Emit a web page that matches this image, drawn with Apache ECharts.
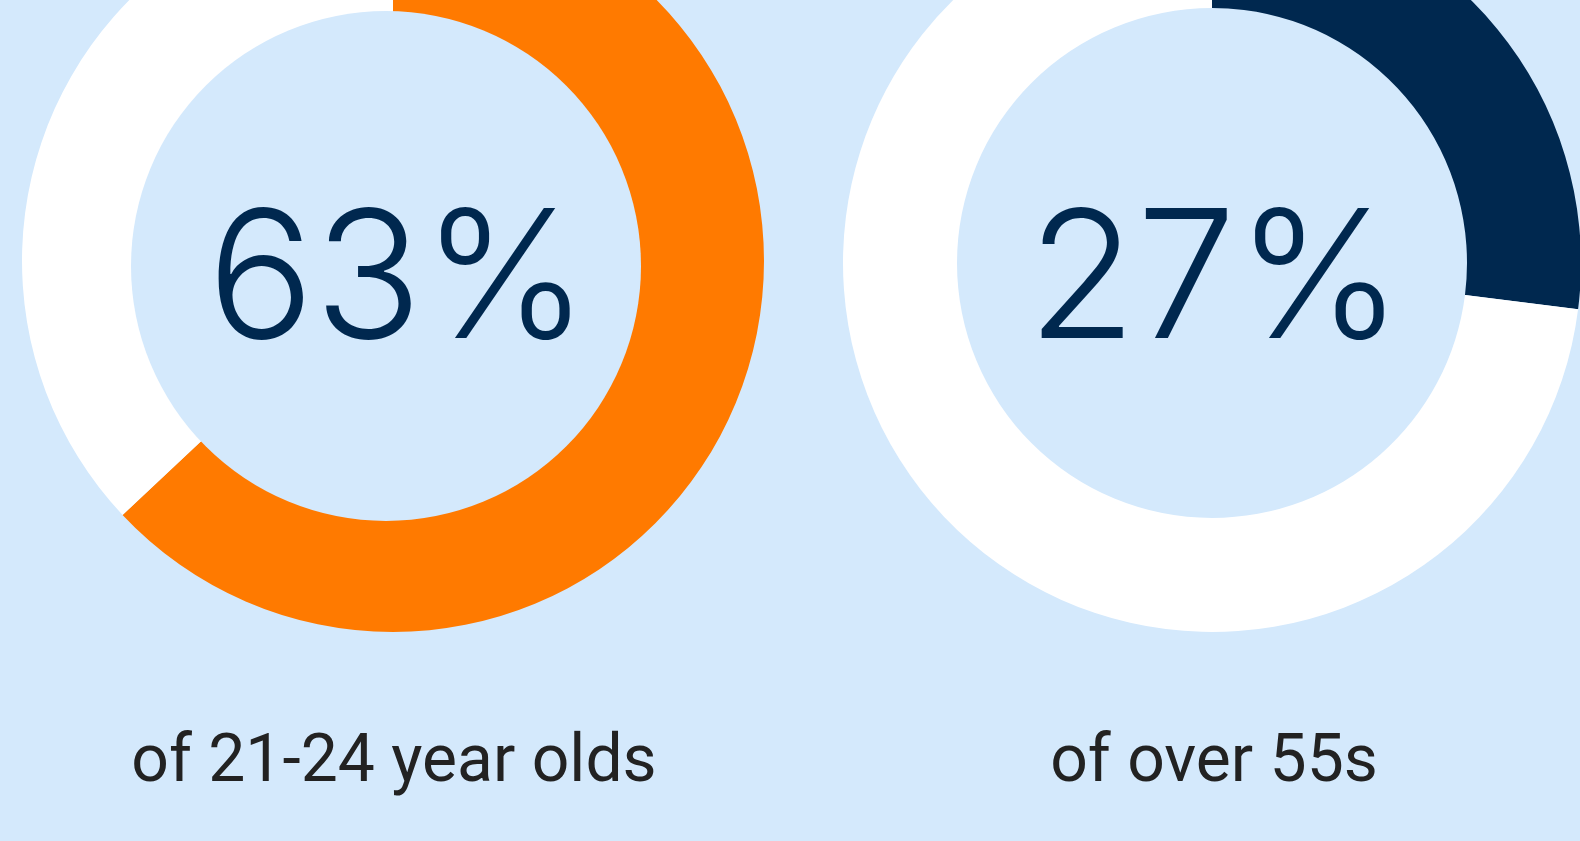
<!DOCTYPE html>
<html>
<head>
<meta charset="utf-8">
<script src="https://cdn.jsdelivr.net/npm/echarts@6/dist/echarts.min.js"></script>
<style>
  html, body { margin: 0; padding: 0; background: #D4E9FC; }
  #chart { width: 1580px; height: 841px; }
</style>
</head>
<body>
<div id="chart"></div>
<script>
// share of each group (percent)
const groups = ['of 21-24 year olds', 'of over 55s'];
const shares = [63, 27];
const ringColors = ['#FF7A00', '#00284F'];

const bg = '#D4E9FC';
const textNavy = '#00284F';

const chart = echarts.init(document.getElementById('chart'));

const ring = (value, color, center, radius) => ({
    type: 'pie',
    center: center,
    radius: radius,
    startAngle: 90,
    clockwise: true,
    silent: true,
    animation: false,
    label: { show: false },
    labelLine: { show: false },
    emphasis: { disabled: true },
    itemStyle: { borderWidth: 0 },
    data: [
        { value: value, itemStyle: { color: color } },
        { value: 100 - value, itemStyle: { color: '#ffffff' } }
    ]
});

const bigText = { fontFamily: 'Inter', fontWeight: 300, fontSize: 178, color: textNavy };
const smallText = { fontFamily: 'Roboto', fontWeight: 400, fontSize: 66, color: '#222222' };

chart.setOption({
    backgroundColor: bg,
    title: [
        { text: shares[0] + '%', left: 393, top: 279, textAlign: 'center', textVerticalAlign: 'middle', textStyle: bigText },
        { text: shares[1] + '%', left: 1210, top: 279, textAlign: 'center', textVerticalAlign: 'middle', textStyle: bigText },
        { text: groups[0], left: 389, top: 759, textAlign: 'center', textVerticalAlign: 'middle', textStyle: smallText },
        { text: groups[1], left: 1209, top: 759, textAlign: 'center', textVerticalAlign: 'middle', textStyle: smallText }
    ],
    series: [
        ring(shares[0], ringColors[0], [393, 261], [0, 371]),
        {
            // inner hole of the left ring (slightly off-centre, as in the original)
            type: 'pie',
            center: [386, 266],
            radius: [0, 255],
            silent: true,
            animation: false,
            label: { show: false },
            labelLine: { show: false },
            emphasis: { disabled: true },
            itemStyle: { borderWidth: 0, color: bg },
            data: [{ value: 1 }]
        },
        ring(shares[1], ringColors[1], [1212, 263], [255, 369])
    ]
});
</script>
</body>
</html>
